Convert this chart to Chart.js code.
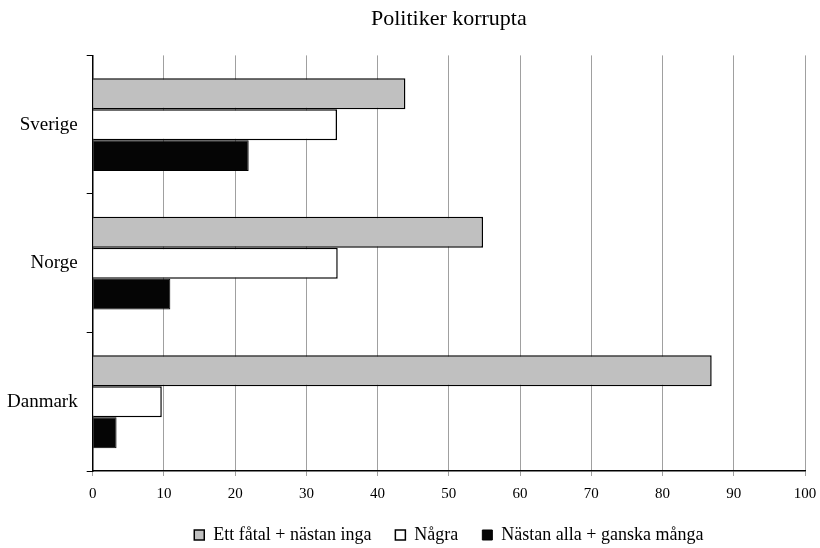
<!DOCTYPE html>
<html>
<head>
<meta charset="utf-8">
<script src="https://cdn.jsdelivr.net/npm/chart.js@4"></script>
<style>
  html, body { margin: 0; padding: 0; background: #fff; }
  #wrap { width: 820px; height: 548px; }
</style>
</head>
<body>
<div id="wrap"><canvas id="chart" width="820" height="548"></canvas></div>
<script>
const categories = ['Sverige', 'Norge', 'Danmark'];
const seriesNames = ['Ett fåtal + nästan inga', 'Några', 'Nästan alla + ganska många'];
const fewValues = [43.9, 54.8, 86.9];
const someValues = [34.3, 34.4, 9.7];
const manyValues = [21.9, 10.9, 3.35];
const xTicks = [0, 10, 20, 30, 40, 50, 60, 70, 80, 90, 100];

const font = "'Liberation Serif', 'DejaVu Serif', serif";

new Chart(document.getElementById('chart').getContext('2d'), {
  type: 'bar',
  data: {
    labels: categories,
    datasets: [
      { label: seriesNames[0], data: fewValues, backgroundColor: '#c0c0c0', borderColor: '#000', borderWidth: 1.5 },
      { label: seriesNames[1], data: someValues, backgroundColor: '#ffffff', borderColor: '#000', borderWidth: 1.5 },
      { label: seriesNames[2], data: manyValues, backgroundColor: '#050505', borderColor: '#000', borderWidth: 1 }
    ]
  },
  options: {
    indexAxis: 'y',
    responsive: false,
    animation: false,
    categoryPercentage: 0.67,
    barPercentage: 1.0,
    layout: { padding: { left: -2, right: -2, top: 4, bottom: -6 } },
    scales: {
      x: {
        min: 0,
        max: 100,
        afterBuildTicks: axis => { axis.ticks = xTicks.map(v => ({ value: v })); },
        afterFit: axis => {
          axis.height -= 10;
          axis.paddingRight = 15;
        },
        grid: { color: '#a0a0a0', lineWidth: 1, tickLength: 5, tickColor: '#a0a0a0' },
        border: { color: '#000', width: 1.5 },
        ticks: { color: '#000', font: { family: font, size: 15 }, padding: 9 }
      },
      y: {
        grid: { offset: true, drawOnChartArea: false, tickLength: 6, tickColor: '#000' },
        border: { color: '#000', width: 1.5 },
        ticks: { color: '#000', font: { family: font, size: 19 }, padding: 9 }
      }
    },
    plugins: {
      title: {
        display: true,
        fullSize: false,
        text: 'Politiker korrupta',
        color: '#000',
        font: { family: font, size: 22, weight: 'normal' },
        padding: { top: 2, bottom: 23 }
      },
      legend: {
        position: 'bottom',
        fullSize: false,
        labels: {
          color: '#000',
          font: { family: font, size: 18 },
          boxWidth: 10,
          boxHeight: 10,
          padding: 24
        }
      },
      tooltip: { enabled: false }
    }
  }
});
</script>
</body>
</html>
